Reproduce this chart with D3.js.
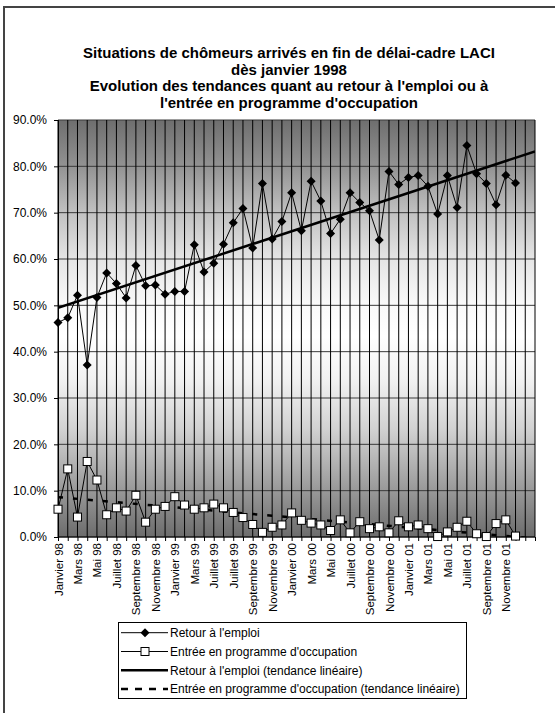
<!DOCTYPE html>
<html><head><meta charset="utf-8">
<script src="https://cdn.jsdelivr.net/npm/d3@7"></script>
<style>
body{margin:0;background:#fff;}
text{font-family:"Liberation Sans",Arial,sans-serif;}
</style></head>
<body>
<svg id="c" width="555" height="713"></svg>
<script>
const titleLines = [
  "Situations de chômeurs arrivés en fin de délai-cadre LACI",
  "dès janvier 1998",
  "Evolution des tendances quant au retour à l'emploi ou à",
  "l'entrée en programme d'occupation"
];
const months = [
  "Janvier 98","Février 98","Mars 98","Avril 98","Mai 98","Juin 98","Juillet 98","Août 98","Septembre 98","Octobre 98","Novembre 98","Décembre 98",
  "Janvier 99","Février 99","Mars 99","Avril 99","Mai 99","Juin 99","Juillet 99","Août 99","Septembre 99","Octobre 99","Novembre 99","Décembre 99",
  "Janvier 00","Février 00","Mars 00","Avril 00","Mai 00","Juin 00","Juillet 00","Août 00","Septembre 00","Octobre 00","Novembre 00","Décembre 00",
  "Janvier 01","Février 01","Mars 01","Avril 01","Mai 01","Juin 01","Juillet 01","Août 01","Septembre 01","Octobre 01","Novembre 01","Décembre 01",
  "Janvier 02","Février 02"
];
// labels as printed under the axis (every second month)
const tickLabels = [
  "Janvier 98","Mars 98","Mai 98","Juillet 98","Septembre 98","Novembre 98",
  "Janvier 99","Mars 99","Juillet 99","Juillet 99","Septembre 99","Novembre 99",
  "Janvier 00","Mars 00","Mai 00","Juillet 00","Septembre 00","Novembre 00",
  "Janvier 01","Mars 01","Mai 01","Juillet 01","Septembre 01","Novembre 01",""
];
const retour = [
  46.3,47.3,52.2,37.1,51.7,57.0,54.7,51.6,58.6,54.2,54.4,52.4,
  53.0,53.0,63.1,57.2,59.1,63.2,67.8,70.9,62.4,76.3,64.3,68.1,
  74.3,66.1,76.8,72.5,65.5,68.6,74.3,72.2,70.4,64.1,78.9,76.1,
  77.6,78.0,75.7,69.7,78.0,71.1,84.5,78.4,76.3,71.7,78.1,76.4
];
const entree = [
  6.0,14.7,4.3,16.3,12.3,4.8,6.3,5.6,9.0,3.2,6.0,6.6,
  8.7,6.9,6.0,6.3,7.1,6.3,5.3,4.2,2.7,1.0,2.1,2.6,
  5.2,3.6,3.0,2.6,1.4,3.7,0.9,3.3,1.8,2.2,0.9,3.5,
  2.2,2.6,1.8,0.1,1.1,2.1,3.4,0.7,0.1,2.9,3.7,0.2
];
const yTicks = [0,10,20,30,40,50,60,70,80,90];
const legendLabels = [
  "Retour à l'emploi",
  "Entrée en programme d'occupation",
  "Retour à l'emploi (tendance linéaire)",
  "Entrée en programme d'occupation (tendance linéaire)"
];

const svg = d3.select("#c");
const L = 58, R = 535, T = 120, B = 537;

// chart frame
svg.append("rect").attr("x",4).attr("y",7).attr("width",700).attr("height",800)
  .attr("fill","#fff").attr("stroke","#444").attr("stroke-width",2);

const x = d3.scalePoint().domain(months).range([L,R]);
const y = d3.scaleLinear().domain([0,90]).range([B,T]);

// gradient
const defs = svg.append("defs");
const g = defs.append("linearGradient").attr("id","bg").attr("x1",0).attr("y1",0).attr("x2",0).attr("y2",1);
[[0,"#6e6e6e"],[0.11,"#929292"],[0.22,"#c0c0c0"],[0.33,"#e4e4e4"],[0.44,"#f9f9f9"],[0.52,"#ffffff"],
 [0.62,"#f2f2f2"],[0.74,"#d2d2d2"],[0.87,"#a0a0a0"],[1,"#6c6c6c"]]
 .forEach(s=>g.append("stop").attr("offset",s[0]).attr("stop-color",s[1]));
defs.append("clipPath").attr("id","clip").append("rect").attr("x",L).attr("y",T).attr("width",R-L).attr("height",B-T);

svg.append("rect").attr("x",L).attr("y",T).attr("width",R-L).attr("height",B-T).attr("fill","url(#bg)");

// gridlines
svg.append("g").selectAll("line").data(yTicks).join("line")
  .attr("x1",L).attr("x2",R).attr("y1",d=>y(d)).attr("y2",d=>y(d))
  .attr("stroke","#3a3a3a").attr("stroke-width",1);
svg.append("g").selectAll("line").data(months).join("line")
  .attr("x1",d=>x(d)).attr("x2",d=>x(d)).attr("y1",T).attr("y2",B)
  .attr("stroke","#000").attr("stroke-width",1);

// axes
const yAxis = svg.append("g").attr("transform",`translate(${L},0)`)
  .call(d3.axisLeft(y).tickValues(yTicks).tickSize(4).tickPadding(7).tickFormat(d=>d3.format(".1f")(d)+"%"));
yAxis.selectAll("text").attr("font-size","12px").attr("fill","#000");
yAxis.selectAll("line,path").attr("stroke","#000");

const xAxis = svg.append("g").attr("transform",`translate(0,${B})`)
  .call(d3.axisBottom(x).tickValues(months).tickSize(4).tickFormat(d=>{
    const i = months.indexOf(d); return i%2===0 ? tickLabels[i/2] : "";
  }));
xAxis.selectAll("line,path").attr("stroke","#000");
xAxis.select("path").attr("d",`M${L},0H${R}`);
xAxis.selectAll("text").attr("font-size","11.5px").attr("fill","#000")
  .attr("transform","rotate(-90)").attr("text-anchor","end")
  .attr("x",-6).attr("y",0).attr("dy","0.35em");

// regression
function linreg(vals){
  const n=vals.length; const xs=d3.range(n);
  const mx=d3.mean(xs), my=d3.mean(vals);
  let sxy=0,sxx=0; xs.forEach((xi,i)=>{sxy+=(xi-mx)*(vals[i]-my); sxx+=(xi-mx)*(xi-mx);});
  const b=sxy/sxx; return {a:my-b*mx,b};
}
const plot = svg.append("g").attr("clip-path","url(#clip)");
const r1 = linreg(retour), r2 = linreg(entree);
const ends = [0, months.length-1];
plot.append("line")
  .attr("x1",x(months[ends[0]])).attr("y1",y(r1.a+r1.b*ends[0]))
  .attr("x2",x(months[ends[1]])).attr("y2",y(r1.a+r1.b*ends[1]))
  .attr("stroke","#000").attr("stroke-width",2.5);
plot.append("line")
  .attr("x1",x(months[ends[0]])).attr("y1",y(r2.a+r2.b*ends[0]))
  .attr("x2",x(months[ends[1]])).attr("y2",y(r2.a+r2.b*ends[1]))
  .attr("stroke","#000").attr("stroke-width",2.5).attr("stroke-dasharray","5,10");

const line = d3.line().x((d,i)=>x(months[i])).y(d=>y(d));
svg.append("path").attr("d",line(retour)).attr("fill","none").attr("stroke","#000").attr("stroke-width",1);
svg.append("path").attr("d",line(entree)).attr("fill","none").attr("stroke","#000").attr("stroke-width",1);

const diamond = "M0,-4.5L4.5,0L0,4.5L-4.5,0Z";
svg.append("g").selectAll("path").data(retour).join("path")
  .attr("d",diamond).attr("transform",(d,i)=>`translate(${x(months[i])},${y(d)})`).attr("fill","#000");
svg.append("g").selectAll("rect").data(entree).join("rect")
  .attr("x",(d,i)=>x(months[i])-4).attr("y",d=>y(d)-4).attr("width",8).attr("height",8)
  .attr("fill","#fff").attr("stroke","#000").attr("stroke-width",1);

// title
svg.append("g").selectAll("text").data(titleLines).join("text")
  .attr("x",289).attr("y",(d,i)=>58+i*16.5).attr("text-anchor","middle")
  .attr("font-size","15px").attr("font-weight","bold").attr("fill","#000").text(d=>d);

// legend
const lg = svg.append("g");
lg.append("rect").attr("x",118.5).attr("y",622.5).attr("width",348).attr("height",76)
  .attr("fill","#fff").attr("stroke","#000").attr("stroke-width",1);
const rowY = i=>632.7+i*18.8;
legendLabels.forEach((t,i)=>{
  const yy=rowY(i);
  const ln = lg.append("line").attr("x1",121).attr("x2",168).attr("y1",yy).attr("y2",yy).attr("stroke","#000");
  if(i<2) ln.attr("stroke-width",1);
  if(i===2) ln.attr("stroke-width",2.5);
  if(i===3) ln.attr("stroke-width",2.5).attr("stroke-dasharray","7,7");
  if(i===0) lg.append("path").attr("d",diamond).attr("transform",`translate(145,${yy})`).attr("fill","#000");
  if(i===1) lg.append("rect").attr("x",141).attr("y",yy-4).attr("width",8).attr("height",8).attr("fill","#fff").attr("stroke","#000");
  lg.append("text").attr("x",170).attr("y",yy).attr("dy","0.35em").attr("font-size","12px").attr("fill","#000").text(t);
});
</script>
</body></html>
